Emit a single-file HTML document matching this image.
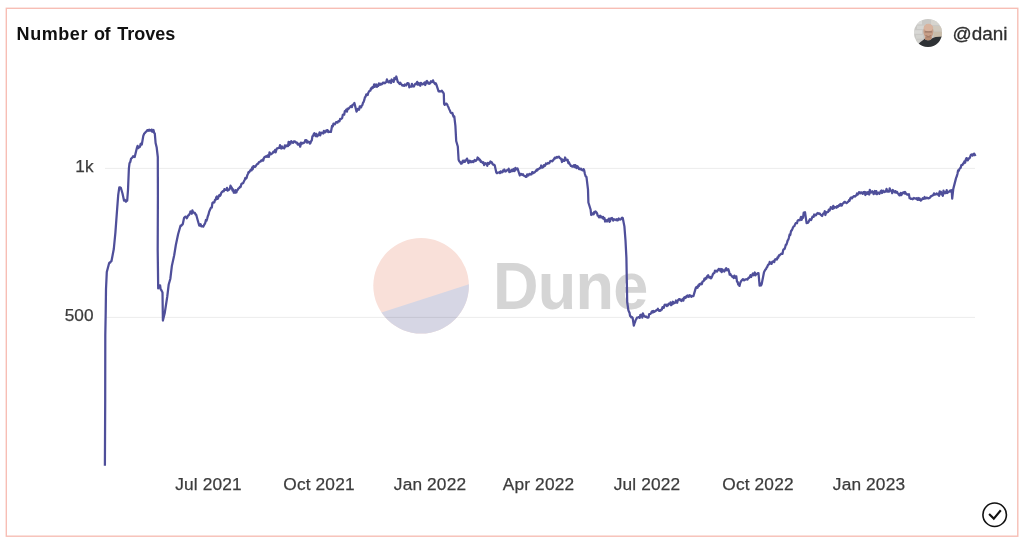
<!DOCTYPE html>
<html lang="en">
<head>
<meta charset="utf-8">
<title>Number of Troves</title>
<style>
  html,body{margin:0;padding:0;background:#fff;}
  body{width:1024px;height:542px;position:relative;overflow:hidden;font-family:"Liberation Sans",sans-serif;}
  .card{position:absolute;left:6px;top:8px;width:1011px;height:527px;border:1px solid #f5bdb4;background:#fff;box-sizing:content-box;}
  .title{position:absolute;left:16.6px;top:23.3px;font-size:18px;font-weight:bold;color:#111;line-height:22px;white-space:nowrap;letter-spacing:0.35px;}
  .user{position:absolute;left:952.5px;top:22.6px;font-size:18.9px;color:#2e2e2e;-webkit-text-stroke:0.3px #2e2e2e;line-height:22px;white-space:nowrap;}
  .avatar{position:absolute;left:914px;top:19px;width:28px;height:28px;}
  .ylab{position:absolute;width:60px;text-align:right;font-size:17.2px;color:#3c3c3c;line-height:20px;left:33.5px;-webkit-text-stroke:0.25px #3c3c3c;}
  .xlab{position:absolute;width:100px;text-align:center;font-size:17.3px;color:#3c3c3c;line-height:20px;top:474.4px;white-space:nowrap;letter-spacing:0.15px;-webkit-text-stroke:0.25px #3c3c3c;}
  .wm{position:absolute;left:492.8px;top:247.8px;font-size:66px;font-weight:bold;color:#d5d5d5;line-height:76px;white-space:nowrap;transform-origin:0 0;transform:scaleX(0.955);letter-spacing:-0.8px;}
  svg.chart{position:absolute;left:0;top:0;}
  .check{position:absolute;left:982px;top:502px;width:26px;height:26px;}
</style>
</head>
<body>
<div id="root" style="position:absolute;left:0;top:0;width:1024px;height:542px;will-change:transform;opacity:0.999">
<svg class="chart" width="1024" height="542" viewBox="0 0 1024 542"><rect x="6.3" y="8.3" width="1011.5" height="527.9" fill="#fff" stroke="#f7beb5" stroke-width="1.4"/></svg>
<div class="title"><span style="letter-spacing:0.57px">Number</span> <span style="position:absolute;left:77.5px;top:0;letter-spacing:-0.65px">of</span> <span style="position:absolute;left:100.6px;top:0;letter-spacing:0px">Troves</span></div>

<svg class="avatar" viewBox="0 0 28 28">
  <defs>
    <clipPath id="av"><circle cx="14" cy="14" r="14"/></clipPath>
    <filter id="bl" x="-10%" y="-10%" width="120%" height="120%"><feGaussianBlur stdDeviation="0.55"/></filter>
  </defs>
  <g clip-path="url(#av)">
    <rect width="28" height="28" fill="#c9c8c5"/>
    <g filter="url(#bl)">
      <rect x="-1" y="2" width="9" height="3.4" fill="#dadad8"/>
      <rect x="3" y="6.6" width="7" height="3.4" fill="#d5d5d2"/>
      <rect x="-1" y="11.2" width="9" height="3.6" fill="#d8d8d5"/>
      <rect x="2" y="16" width="7" height="3.6" fill="#d2d2ce"/>
      <rect x="-1" y="21" width="7" height="3" fill="#cfcfcb"/>
      <rect x="17" y="1" width="11" height="5" fill="#d6d4ce"/>
      <rect x="19" y="7" width="10" height="5" fill="#cfc8bc"/>
      <rect x="19.5" y="12.5" width="9" height="6" fill="#c9bca9"/>
      <path d="M2.5 29 C3 25.5 5.5 23.4 9.6 20.8 L10.6 19.7 C12.6 21.9 16.2 21.9 17.9 19.5 C19.5 18.6 20.8 18.1 21.8 18 L29 17.6 L29 29 Z" fill="#2f3036"/>
      <path d="M10.6 19.7 C12.6 21.9 16.2 21.9 17.9 19.5 L17.6 17 L11.2 17.2 Z" fill="#b88b70"/>
      <ellipse cx="14.4" cy="12.4" rx="5" ry="7.4" fill="#c79e87"/>
      <ellipse cx="14.4" cy="8.6" rx="4.7" ry="3.8" fill="#d8b39e"/>
      <rect x="10.6" y="12.3" width="7.6" height="1.3" rx="0.6" fill="#7d5e50" opacity="0.6"/>
      <path d="M11.6 16.6 Q14.4 18.6 17.2 16.6" fill="none" stroke="#8c6352" stroke-width="0.9" opacity="0.85"/>
      <ellipse cx="14.4" cy="18.4" rx="2.8" ry="1" fill="#a47c68" opacity="0.7"/>
    </g>
  </g>
</svg>
<div class="user">@dani</div>

<svg class="chart" width="1024" height="542" viewBox="0 0 1024 542">
  <!-- watermark logo -->
  <defs><clipPath id="dc"><circle cx="421.1" cy="285.8" r="47.8"/></clipPath></defs>
  <g clip-path="url(#dc)">
    <rect x="370" y="235" width="102" height="102" fill="#f9e0d9"/>
    <path d="M360 319.4 L480 280.6 L480 340 L360 340 Z" fill="#d6d6e4"/>
  </g>
  <!-- gridlines -->
  <line x1="105" y1="168.4" x2="975" y2="168.4" stroke="#000" stroke-opacity="0.08" stroke-width="1"/>
  <line x1="105" y1="317.4" x2="975" y2="317.4" stroke="#000" stroke-opacity="0.08" stroke-width="1"/>
</svg>
<div class="wm">Dune</div>
<svg class="chart" width="1024" height="542" viewBox="0 0 1024 542">
  <path fill="none" stroke="#4f4f9a" stroke-width="2.25" stroke-linejoin="round" stroke-linecap="butt" d="M104.9 465.8 L105.2 400.0 L105.3 335.0 L105.7 312.7 L106.0 289.2 L106.8 272.0 L109.1 263.3 L109.7 262.5 L110.3 262.6 L110.9 261.4 L111.5 261.0 L113.8 249.0 L115.4 232.7 L117.0 210.8 L118.2 195.1 L119.3 187.3 L120.1 187.4 L120.9 188.0 L122.5 193.5 L124.0 200.6 L124.6 199.7 L125.3 200.4 L125.9 201.7 L126.6 201.0 L127.2 200.6 L128.0 190.0 L128.9 168.3 L129.5 163.3 L130.3 161.9 L131.1 158.6 L131.8 158.1 L132.4 157.4 L133.1 156.3 L133.9 156.8 L134.7 157.0 L137.0 147.6 L137.6 145.8 L138.2 148.1 L138.8 147.6 L139.4 146.9 L140.0 146.8 L140.6 144.1 L141.2 143.4 L141.8 144.5 L143.3 135.9 L144.1 133.8 L144.9 132.9 L145.7 132.0 L146.5 131.3 L147.3 130.0 L147.9 130.0 L148.5 130.7 L149.2 129.6 L149.8 130.6 L150.4 130.4 L151.0 130.7 L151.6 129.6 L152.3 131.8 L152.9 130.6 L153.5 130.0 L154.2 132.9 L154.8 133.5 L155.6 143.0 L156.7 147.6 L157.8 157.0 L157.9 195.0 L157.7 250.0 L158.2 288.4 L158.8 286.8 L159.5 285.6 L160.1 285.3 L160.6 289.2 L161.2 289.9 L161.9 291.2 L162.5 292.4 L162.9 320.6 L164.8 312.7 L167.2 297.0 L168.7 284.5 L170.3 279.0 L171.9 265.7 L174.2 255.2 L175.8 245.3 L178.1 234.3 L180.5 225.7 L181.3 225.8 L182.0 224.9 L182.8 224.1 L184.1 217.8 L184.8 217.2 L185.5 216.6 L186.1 216.8 L186.8 218.3 L187.5 217.0 L188.1 215.3 L188.7 215.3 L189.3 214.5 L189.9 213.1 L190.5 211.5 L191.1 212.7 L191.8 213.7 L192.4 210.3 L193.0 212.0 L193.6 212.2 L194.3 213.0 L194.9 212.8 L195.6 214.6 L196.2 214.7 L197.7 220.2 L199.3 225.7 L200.0 225.6 L200.6 224.2 L201.3 226.3 L202.0 226.1 L202.7 226.2 L203.3 226.6 L204.0 225.2 L204.6 224.2 L205.3 222.7 L205.9 220.0 L206.6 220.5 L207.2 218.6 L207.8 216.2 L208.5 214.5 L209.1 211.9 L209.8 210.3 L210.4 208.9 L211.1 207.6 L211.8 207.5 L212.4 203.1 L213.1 202.3 L213.7 202.6 L214.3 202.5 L215.0 199.8 L215.6 200.0 L216.2 197.4 L216.9 196.4 L217.5 198.9 L218.1 198.2 L218.7 196.4 L219.4 194.9 L220.0 195.8 L220.7 194.8 L221.3 192.7 L221.9 192.1 L222.5 191.5 L223.2 191.0 L223.8 191.3 L224.4 189.1 L225.1 189.8 L225.7 189.8 L226.4 189.9 L227.0 187.9 L227.7 190.7 L228.3 189.6 L229.0 189.8 L229.8 188.8 L230.5 185.7 L231.2 186.9 L231.8 187.7 L232.5 190.6 L233.2 189.5 L233.8 192.7 L234.4 192.1 L235.1 192.7 L235.7 190.1 L236.4 192.4 L237.0 190.4 L237.6 190.1 L238.2 188.7 L238.8 188.3 L239.4 187.9 L240.1 186.6 L240.7 186.8 L241.3 184.2 L241.9 183.7 L242.5 183.3 L243.2 183.2 L244.0 181.1 L244.7 180.0 L245.3 178.0 L245.9 178.6 L246.6 178.0 L247.2 175.5 L247.8 174.1 L248.5 172.2 L249.1 172.4 L249.7 171.4 L250.4 170.2 L251.0 169.5 L251.6 170.3 L252.2 167.4 L252.8 169.1 L253.4 166.1 L254.0 166.1 L254.6 166.9 L255.2 166.8 L255.8 166.0 L256.4 165.0 L257.0 164.3 L257.6 163.7 L258.2 163.6 L258.8 162.5 L259.4 161.8 L260.1 161.7 L260.7 161.4 L261.3 160.3 L262.0 160.5 L262.6 159.7 L263.2 160.6 L263.8 158.4 L264.5 157.1 L265.1 157.0 L265.7 156.3 L266.4 156.3 L267.0 156.9 L267.6 155.4 L268.2 155.8 L268.9 156.8 L269.5 152.3 L270.1 153.4 L270.8 154.4 L271.4 153.8 L272.0 153.6 L272.6 152.9 L273.3 151.7 L273.9 152.2 L274.5 151.3 L275.1 150.0 L275.7 152.3 L276.4 149.7 L277.0 148.3 L277.6 148.3 L278.2 148.1 L278.8 147.9 L279.4 147.9 L280.0 145.2 L280.6 147.3 L281.2 148.6 L281.9 146.4 L282.5 147.3 L283.1 148.2 L283.7 148.0 L284.3 148.4 L284.9 145.3 L285.5 146.8 L286.1 146.0 L286.8 145.5 L287.4 146.0 L288.0 146.0 L288.6 141.9 L289.3 145.0 L289.9 142.1 L290.5 143.7 L291.2 141.2 L291.8 142.1 L292.4 142.1 L293.0 142.9 L293.7 141.5 L294.3 141.6 L294.9 141.3 L295.6 142.5 L296.2 142.3 L296.9 142.5 L297.6 144.5 L298.3 144.5 L298.9 143.7 L299.6 144.4 L300.2 146.7 L300.9 142.7 L301.5 144.3 L302.1 142.9 L302.8 143.0 L303.4 143.2 L304.0 142.4 L304.6 142.5 L305.3 140.2 L305.9 141.3 L306.5 140.2 L307.2 142.7 L307.9 141.5 L308.5 141.9 L309.1 141.8 L309.8 143.6 L310.4 143.2 L311.1 141.2 L311.8 140.3 L312.4 136.4 L313.1 135.8 L313.7 134.2 L314.4 133.2 L315.0 135.2 L315.7 136.1 L316.4 133.8 L317.1 136.3 L317.7 135.8 L318.4 135.0 L319.0 134.5 L319.6 132.4 L320.2 135.3 L320.8 133.5 L321.4 132.6 L322.0 133.2 L322.7 132.9 L323.3 133.5 L323.9 130.8 L324.5 132.5 L325.1 132.4 L325.7 132.0 L326.3 130.3 L326.9 130.4 L327.6 130.1 L328.2 132.1 L328.9 131.5 L329.6 131.8 L330.2 131.9 L330.9 131.9 L331.5 129.0 L332.1 125.8 L332.8 126.3 L333.5 123.6 L334.1 124.0 L334.8 124.3 L335.4 123.4 L336.1 122.1 L336.8 122.2 L337.5 122.6 L338.1 121.4 L338.8 120.9 L339.5 121.3 L340.1 119.0 L340.8 119.2 L341.5 118.7 L342.2 117.9 L342.8 114.9 L343.5 114.6 L344.2 114.7 L344.8 111.2 L345.5 111.2 L346.2 109.6 L346.9 111.7 L347.5 108.7 L348.2 109.1 L348.8 108.5 L349.4 107.7 L350.1 107.2 L350.7 106.1 L351.3 106.3 L351.9 107.1 L352.5 104.9 L353.2 104.7 L353.8 104.6 L354.4 103.0 L356.5 111.6 L357.1 110.7 L357.8 108.9 L358.4 108.9 L359.1 109.7 L359.8 106.3 L360.4 106.6 L361.1 107.4 L361.7 105.7 L362.4 105.0 L363.0 102.7 L363.6 102.0 L364.3 99.9 L365.0 97.1 L365.6 96.7 L366.3 94.3 L367.0 94.4 L367.7 95.0 L368.3 92.7 L369.0 91.5 L369.7 90.7 L370.4 90.6 L371.0 88.4 L371.6 88.9 L372.3 87.1 L372.9 87.8 L373.5 86.7 L374.2 84.3 L374.8 86.8 L375.5 85.7 L376.2 84.4 L376.9 86.8 L377.5 85.8 L378.2 85.9 L378.9 83.3 L379.5 84.2 L380.2 84.8 L380.9 83.6 L381.6 84.4 L382.2 83.9 L382.9 82.7 L383.6 83.1 L384.2 82.6 L384.9 83.3 L385.6 82.5 L386.3 82.1 L386.9 79.4 L387.6 81.2 L388.3 82.1 L389.0 82.4 L389.7 80.9 L390.3 80.8 L391.0 83.0 L391.7 79.5 L392.4 81.2 L393.0 80.9 L393.7 81.9 L394.4 78.0 L395.0 78.7 L395.6 79.1 L396.3 76.5 L397.8 82.0 L398.4 82.3 L399.1 83.3 L399.7 84.0 L400.3 82.7 L401.0 83.9 L401.6 84.6 L402.2 85.5 L402.8 85.1 L403.5 85.3 L404.1 85.9 L404.8 84.5 L405.4 84.8 L406.1 85.5 L406.7 84.4 L407.4 83.1 L408.0 83.5 L408.6 83.3 L409.3 87.3 L409.9 86.5 L410.6 86.7 L411.2 86.7 L411.9 83.8 L412.5 86.4 L413.2 85.8 L413.9 86.5 L414.6 84.8 L415.2 83.9 L415.9 83.5 L416.5 84.1 L417.2 81.8 L417.8 84.7 L418.4 84.1 L419.0 83.2 L419.7 85.2 L420.3 85.8 L420.9 82.8 L421.6 83.6 L422.2 84.3 L422.8 84.3 L423.4 84.0 L424.0 83.2 L424.6 82.4 L425.2 85.0 L425.8 83.8 L426.4 81.4 L427.0 81.0 L427.6 82.0 L428.3 83.6 L429.0 82.9 L429.7 83.7 L430.3 82.8 L431.0 81.2 L431.7 82.2 L432.4 82.0 L433.0 80.3 L433.7 82.1 L434.4 83.1 L435.0 84.0 L435.6 83.2 L436.3 84.3 L438.6 91.4 L439.2 91.1 L439.9 91.5 L440.5 91.3 L441.2 91.4 L441.8 90.6 L442.5 91.8 L443.1 92.4 L443.8 93.7 L444.1 103.9 L444.7 104.8 L445.4 104.3 L446.0 103.6 L446.7 103.9 L447.3 104.7 L447.9 106.1 L448.5 107.4 L449.2 109.1 L449.8 110.4 L450.4 111.8 L451.0 112.8 L451.7 113.2 L452.4 113.0 L453.0 115.3 L453.6 116.7 L454.3 116.5 L455.4 125.9 L456.2 141.0 L457.8 146.5 L458.6 159.8 L459.4 161.5 L460.2 162.2 L461.0 163.7 L461.7 163.7 L462.3 161.9 L463.0 160.6 L463.7 162.0 L464.4 160.6 L465.0 161.7 L465.7 160.6 L466.4 159.8 L467.0 158.6 L467.7 160.3 L468.4 163.0 L469.1 161.4 L469.7 160.7 L470.4 162.2 L471.0 161.2 L471.6 162.1 L472.2 161.7 L472.8 161.1 L473.4 162.1 L474.0 161.0 L474.6 160.0 L475.2 160.3 L475.8 161.0 L476.4 160.0 L477.0 159.8 L477.6 157.5 L478.2 158.2 L478.8 158.7 L479.5 160.2 L480.1 159.8 L480.8 161.8 L481.4 161.4 L482.1 162.3 L482.7 162.9 L483.4 162.2 L484.1 165.1 L484.8 164.2 L485.4 163.2 L486.1 163.7 L486.7 163.6 L487.3 165.8 L487.9 162.9 L488.5 163.9 L489.2 163.8 L489.8 162.7 L490.4 161.4 L491.0 162.5 L491.6 162.2 L492.2 163.2 L492.8 164.5 L493.5 164.8 L494.1 164.7 L494.7 165.3 L496.3 172.4 L496.9 173.2 L497.5 172.9 L498.1 172.6 L498.7 172.5 L499.4 172.2 L500.0 173.1 L500.6 171.4 L501.2 171.8 L501.8 172.4 L502.4 172.2 L503.0 170.5 L503.7 171.3 L504.3 169.5 L504.9 170.6 L505.5 171.5 L506.1 171.3 L506.8 170.4 L507.4 170.0 L508.0 170.0 L508.7 168.8 L509.3 172.1 L510.0 171.0 L510.7 171.7 L511.4 169.9 L512.0 170.8 L512.7 171.1 L513.4 169.0 L514.1 171.1 L514.8 170.8 L515.4 167.8 L516.1 169.1 L516.8 169.4 L517.5 168.4 L519.8 175.5 L520.4 173.8 L521.0 173.8 L521.6 174.5 L522.3 174.9 L522.9 174.2 L523.5 175.5 L524.1 175.7 L524.7 176.1 L525.3 176.2 L525.9 176.9 L526.6 176.6 L527.2 174.3 L527.8 175.0 L528.4 175.5 L529.0 174.2 L529.7 173.9 L530.3 174.5 L530.9 174.3 L531.5 174.4 L532.2 172.1 L532.8 172.2 L533.4 173.0 L534.1 172.5 L534.7 172.4 L535.3 171.5 L535.9 171.1 L536.6 169.8 L537.2 170.5 L537.8 169.2 L538.5 169.3 L539.1 168.7 L539.8 167.9 L540.5 168.1 L541.2 165.5 L541.8 166.9 L542.5 167.6 L543.2 167.1 L543.9 165.1 L544.6 166.1 L545.2 165.5 L545.9 163.5 L546.6 164.0 L547.3 163.7 L547.9 163.0 L548.5 163.4 L549.2 163.1 L549.8 162.1 L550.4 160.9 L551.0 161.2 L551.6 160.9 L552.3 161.3 L552.9 160.5 L553.5 159.8 L554.1 158.8 L554.7 157.8 L555.3 158.4 L555.9 157.7 L556.6 157.0 L557.2 157.6 L557.8 156.9 L558.4 157.1 L559.0 156.7 L559.8 158.2 L560.6 158.4 L561.4 159.8 L562.0 162.0 L562.6 159.5 L563.3 160.8 L563.9 159.9 L564.5 160.9 L565.1 157.5 L565.7 159.1 L566.4 160.0 L567.0 160.4 L567.6 159.8 L568.3 163.1 L568.9 162.2 L569.6 164.2 L570.3 164.7 L570.9 166.0 L571.6 166.1 L572.2 166.6 L572.8 166.0 L573.4 166.6 L574.0 165.1 L574.7 167.2 L575.3 165.1 L575.9 166.3 L576.5 168.1 L577.1 166.1 L577.7 166.5 L578.3 167.4 L579.0 169.1 L579.6 168.6 L580.2 169.2 L580.9 168.6 L581.5 169.7 L582.2 170.2 L582.8 170.4 L583.5 169.1 L584.1 170.0 L584.9 174.0 L585.7 176.3 L586.5 177.1 L588.0 189.6 L588.4 202.5 L590.6 209.5 L591.2 215.0 L591.8 214.5 L592.5 214.3 L593.1 213.1 L593.7 214.3 L594.3 211.8 L595.0 212.6 L595.6 211.5 L596.3 212.2 L597.0 213.1 L597.7 215.6 L598.4 216.0 L599.0 217.4 L599.6 216.2 L600.2 215.7 L600.8 217.3 L601.4 216.6 L602.0 217.0 L602.6 218.3 L603.2 217.0 L603.8 218.9 L604.5 218.1 L605.1 221.5 L605.8 220.1 L606.4 220.9 L607.0 221.5 L607.6 220.0 L608.3 220.4 L608.9 218.6 L609.5 221.8 L610.1 221.2 L610.7 218.6 L611.4 218.2 L612.0 217.9 L612.6 219.3 L613.3 220.6 L614.0 219.2 L614.7 219.7 L615.3 219.6 L616.0 220.0 L616.7 219.2 L617.4 220.4 L618.1 220.1 L618.8 218.5 L619.4 219.5 L620.1 219.6 L620.8 219.5 L621.4 218.5 L622.1 217.6 L622.8 218.2 L624.4 226.4 L625.5 240.5 L626.4 257.7 L627.2 302.0 L628.3 309.9 L628.9 311.6 L629.5 312.6 L630.1 316.1 L630.7 316.2 L631.3 317.4 L632.0 317.1 L632.6 317.7 L633.8 325.6 L634.4 323.6 L635.1 321.8 L635.7 320.0 L636.4 318.9 L637.0 317.7 L637.7 317.5 L638.3 317.3 L639.0 316.9 L639.7 317.9 L640.4 314.8 L641.0 315.1 L641.7 314.6 L642.3 317.6 L642.9 313.4 L643.6 315.0 L644.2 316.0 L644.8 316.3 L645.4 316.8 L646.0 316.5 L646.7 317.4 L647.3 317.4 L647.9 317.7 L648.5 317.5 L649.2 314.0 L649.8 314.0 L650.5 313.9 L651.1 313.0 L651.7 311.7 L652.3 311.3 L652.9 312.6 L653.5 311.0 L654.2 311.9 L654.8 311.6 L655.4 310.9 L656.0 310.7 L656.6 309.9 L657.2 309.9 L657.9 308.8 L658.5 310.3 L659.2 310.9 L659.9 310.1 L660.5 310.7 L661.1 309.7 L661.8 309.6 L662.5 307.1 L663.1 307.6 L663.8 307.9 L664.4 305.2 L665.0 304.6 L665.6 305.1 L666.2 304.7 L666.8 306.2 L667.4 304.9 L668.0 305.3 L668.7 303.7 L669.3 304.2 L669.9 304.1 L670.5 302.3 L671.1 305.2 L671.7 304.6 L672.3 303.6 L672.9 301.7 L673.5 303.7 L674.1 302.6 L674.8 302.9 L675.4 302.6 L676.0 300.5 L676.6 301.4 L677.2 302.8 L677.8 300.5 L678.4 299.8 L679.1 299.2 L679.7 299.1 L680.3 300.3 L680.9 299.7 L681.5 301.0 L682.2 299.5 L682.8 299.0 L683.4 300.6 L684.0 297.7 L684.7 297.2 L685.3 298.0 L685.9 297.7 L686.6 295.9 L687.2 296.6 L687.8 295.4 L688.4 296.8 L689.1 296.7 L689.7 295.2 L690.3 296.2 L690.9 295.8 L691.5 296.7 L692.2 296.1 L692.8 296.1 L693.4 296.1 L695.8 287.9 L696.4 287.0 L697.0 287.9 L697.6 287.7 L698.2 285.5 L698.9 286.1 L699.5 284.0 L700.1 284.3 L700.7 284.4 L701.3 283.2 L701.9 284.0 L702.5 281.6 L703.2 281.3 L703.8 280.9 L704.4 278.7 L705.0 279.5 L705.6 278.2 L706.3 278.6 L706.9 276.5 L707.5 277.0 L708.2 275.2 L708.8 277.3 L709.5 277.6 L710.2 276.9 L710.8 278.4 L711.5 277.7 L712.3 275.9 L713.0 274.0 L713.8 273.0 L714.4 273.0 L715.0 270.6 L715.6 271.1 L716.2 271.2 L716.9 271.6 L717.5 270.2 L718.1 270.3 L718.7 268.9 L719.3 269.1 L719.9 269.6 L720.5 271.0 L721.1 269.0 L721.7 272.1 L722.4 269.4 L723.0 270.2 L723.6 270.5 L724.2 271.5 L724.8 270.7 L725.5 269.2 L726.2 268.1 L726.9 270.3 L727.6 270.2 L728.3 269.1 L729.0 271.3 L729.7 274.7 L730.4 274.0 L731.1 275.4 L731.8 275.9 L732.4 276.8 L733.0 276.6 L733.7 278.0 L734.4 275.6 L735.0 277.0 L735.6 277.9 L736.3 276.3 L737.0 281.7 L737.6 281.8 L738.2 284.4 L738.9 284.8 L739.5 285.9 L740.2 282.9 L740.8 281.7 L741.5 280.6 L742.1 280.1 L742.8 279.2 L743.4 279.3 L744.1 280.4 L744.8 279.7 L745.5 279.6 L746.1 279.2 L746.8 279.3 L747.4 279.6 L748.0 278.7 L748.6 277.6 L749.2 277.8 L749.9 276.5 L750.5 275.1 L751.1 277.0 L751.7 275.6 L752.3 274.6 L752.9 273.5 L753.5 275.3 L754.2 274.4 L754.8 272.5 L755.4 275.3 L756.0 274.0 L756.6 274.3 L757.3 273.5 L757.9 273.0 L758.5 273.0 L759.6 285.6 L760.3 283.6 L761.0 285.5 L761.7 284.0 L764.0 272.3 L764.6 271.1 L765.3 269.7 L766.0 269.1 L766.6 267.6 L767.2 267.0 L767.9 265.2 L768.5 264.4 L769.1 264.3 L769.7 261.9 L770.3 263.1 L771.0 263.7 L771.6 263.9 L772.2 261.8 L772.8 261.6 L773.4 261.3 L774.2 262.1 L774.9 259.6 L775.7 259.2 L776.3 259.3 L776.9 259.6 L777.5 257.4 L778.1 257.9 L778.8 255.5 L779.4 255.7 L780.0 254.8 L780.6 254.4 L781.2 253.7 L781.9 253.7 L782.5 253.9 L783.2 250.0 L783.8 249.0 L784.5 249.0 L785.1 247.5 L785.8 244.8 L786.4 244.6 L787.0 242.9 L787.7 240.4 L788.4 239.5 L789.0 237.3 L789.7 234.3 L790.3 234.9 L791.0 231.1 L791.7 230.4 L792.4 228.9 L793.0 227.5 L793.7 226.3 L794.4 226.2 L795.0 224.5 L795.7 223.2 L796.3 223.1 L797.0 223.2 L797.6 220.8 L798.3 220.2 L799.0 220.0 L799.7 220.3 L800.3 218.8 L801.0 216.8 L801.7 219.8 L802.4 216.9 L803.0 217.8 L803.7 212.7 L804.4 213.3 L805.0 212.2 L806.6 223.1 L807.2 222.9 L807.9 222.8 L808.5 222.0 L809.2 220.5 L809.9 219.2 L810.5 219.7 L811.1 220.0 L811.8 218.4 L812.4 216.8 L813.0 216.4 L813.6 216.8 L814.2 214.5 L814.9 215.5 L815.5 214.9 L816.1 215.2 L816.7 213.6 L817.3 213.7 L817.9 213.0 L818.5 213.5 L819.1 213.9 L819.7 213.4 L820.3 214.2 L820.9 214.9 L821.5 215.4 L822.1 216.0 L822.7 214.5 L823.4 213.4 L824.1 213.4 L824.8 211.2 L825.4 215.0 L826.1 212.2 L826.8 212.5 L827.5 212.2 L828.1 212.0 L828.8 209.6 L829.5 210.6 L830.1 209.5 L830.8 207.1 L831.4 208.2 L832.0 208.3 L832.7 208.9 L833.3 205.8 L833.9 208.1 L834.6 207.4 L835.2 207.4 L835.9 207.2 L836.5 207.8 L837.1 206.1 L837.8 206.9 L838.4 205.9 L839.1 205.1 L839.7 205.8 L840.4 204.0 L841.1 204.3 L841.8 205.6 L842.4 204.0 L843.1 203.2 L843.8 202.9 L844.4 201.8 L845.1 201.9 L845.8 202.7 L846.5 203.2 L847.1 202.6 L847.8 202.0 L848.4 201.6 L849.0 200.2 L849.6 200.7 L850.2 198.5 L850.8 197.8 L851.4 197.4 L852.0 198.4 L852.6 197.3 L853.3 196.7 L853.9 196.1 L854.5 196.1 L855.1 196.6 L855.7 195.7 L856.4 195.5 L857.0 193.5 L857.7 194.5 L858.3 193.7 L859.0 192.1 L859.6 192.5 L860.2 193.3 L860.9 192.3 L861.5 192.3 L862.2 193.4 L862.8 193.9 L863.5 192.1 L864.1 193.2 L864.8 192.0 L865.4 195.0 L866.1 192.4 L866.7 192.9 L867.3 193.9 L867.9 192.1 L868.6 193.3 L869.2 194.6 L869.8 189.9 L870.4 191.8 L871.0 192.6 L871.7 191.9 L872.3 191.3 L872.9 191.8 L873.6 194.1 L874.2 192.3 L874.9 190.9 L875.6 193.5 L876.3 191.2 L876.9 194.2 L877.6 193.3 L878.2 192.6 L878.9 193.0 L879.5 193.9 L880.1 192.6 L880.8 191.0 L881.4 190.5 L882.0 193.0 L882.6 192.4 L883.3 190.7 L883.9 191.3 L884.5 192.0 L885.2 191.6 L885.8 191.7 L886.5 188.9 L887.1 190.6 L887.8 191.7 L888.4 191.5 L889.1 191.6 L889.7 188.3 L890.4 190.7 L891.0 190.5 L891.6 191.1 L892.2 193.2 L892.8 190.0 L893.4 190.8 L894.1 191.3 L894.7 192.2 L895.3 191.1 L895.9 192.7 L896.5 191.8 L897.1 191.8 L897.7 193.5 L898.3 193.5 L898.9 194.8 L899.5 195.4 L900.1 194.3 L900.7 193.0 L901.3 195.1 L902.0 193.9 L902.6 192.7 L903.2 192.9 L903.8 192.3 L904.4 193.6 L905.1 192.0 L905.7 193.2 L906.3 194.1 L907.0 194.5 L907.6 194.3 L908.3 194.9 L908.9 194.1 L909.6 198.2 L910.2 198.2 L910.9 198.8 L911.5 198.9 L912.1 198.6 L912.7 199.2 L913.3 198.6 L913.9 198.0 L914.5 198.3 L915.1 198.5 L915.7 198.5 L916.3 198.1 L916.9 199.2 L917.6 199.8 L918.2 198.0 L918.9 199.9 L919.5 198.3 L920.2 199.6 L920.8 200.6 L921.5 199.3 L922.1 199.4 L922.7 198.3 L923.4 198.9 L924.0 198.9 L924.6 197.0 L925.2 197.9 L925.8 198.5 L926.5 197.7 L927.1 198.1 L927.7 197.9 L928.3 198.3 L929.0 198.1 L929.6 197.9 L930.2 197.3 L930.9 196.2 L931.5 196.2 L932.1 195.7 L932.8 195.3 L933.4 195.2 L934.0 193.4 L934.7 194.5 L935.3 194.5 L935.9 194.4 L936.6 193.4 L937.2 194.2 L937.8 194.6 L938.4 193.8 L939.1 195.9 L939.7 191.3 L940.3 193.5 L940.9 191.9 L941.6 194.4 L942.2 193.4 L942.8 195.8 L943.5 190.7 L944.1 193.1 L944.7 193.3 L945.4 192.3 L946.0 193.0 L946.7 190.2 L947.3 193.0 L947.9 192.4 L948.6 191.9 L949.2 191.7 L949.8 190.8 L950.5 191.6 L951.1 190.2 L951.7 190.3 L952.2 198.6 L953.3 188.9 L956.1 177.9 L956.8 176.3 L957.5 173.8 L958.1 170.4 L958.8 170.7 L959.5 168.9 L960.1 168.1 L960.7 167.7 L961.3 165.2 L962.0 165.1 L962.6 164.7 L963.2 163.3 L963.8 163.4 L964.4 161.3 L965.1 162.7 L965.8 159.5 L966.5 158.1 L967.1 160.2 L967.8 160.4 L968.5 158.5 L969.2 158.6 L969.9 157.6 L970.6 155.5 L971.3 154.5 L972.0 154.4 L972.7 155.6 L973.4 154.2 L974.1 153.6 L974.8 154.7 L975.5 156.0"/>
</svg>

<div class="ylab" style="top:156.2px">1k</div>
<div class="ylab" style="top:305.2px">500</div>

<div class="xlab" style="left:158.5px">Jul 2021</div>
<div class="xlab" style="left:269px">Oct 2021</div>
<div class="xlab" style="left:380px">Jan 2022</div>
<div class="xlab" style="left:488.5px">Apr 2022</div>
<div class="xlab" style="left:597px">Jul 2022</div>
<div class="xlab" style="left:708px">Oct 2022</div>
<div class="xlab" style="left:819px">Jan 2023</div>

<svg class="check" viewBox="0 0 26 26">
  <circle cx="12.67" cy="12.75" r="11.75" fill="none" stroke="#111" stroke-width="1.6"/>
  <path d="M7.1 12.1 L11.8 16.6 L18.8 8.3" fill="none" stroke="#111" stroke-width="2.1" stroke-linecap="butt" stroke-linejoin="miter"/>
</svg>
</div>
</body>
</html>
